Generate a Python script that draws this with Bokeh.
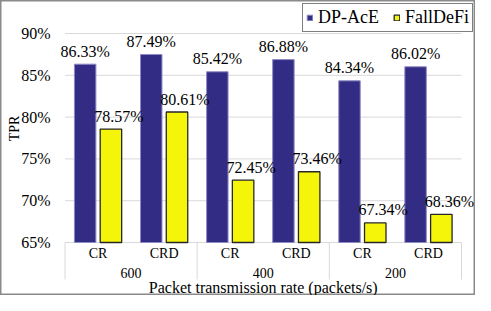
from bokeh.plotting import figure
from bokeh.models import Range1d, ColumnDataSource, Legend, LegendItem
from bokeh.transform import dodge
from bokeh.core.properties import value
from bokeh.embed import file_html
from bokeh.resources import INLINE

# ---- data ----
groups = ["600", "400", "200"]
subcats = ["CR", "CRD"]
dp_ace = [86.33, 87.49, 85.42, 86.88, 84.34, 86.02]
falldefi = [78.57, 80.61, 72.45, 73.46, 67.34, 68.36]
y_ticks = [65, 70, 75, 80, 85, 90]
series_names = ["DP-AcE", "FallDeFi"]
x_title = "Packet transmission rate (packets/s)"
y_title = "TPR"

FONT = "'Liberation Serif', 'Times New Roman', Times, serif"
DP_COLOR = "#332c85"
FD_COLOR = "#f5f50a"
GRID = "#d9d9d9"

W, H = 475, 295
ymin, ymax = y_ticks[0], y_ticks[-1]
LEFT_PX, RIGHT_PX = 64.5, 461      # canvas x of first / last category edge
TOP_PX, BOT_PX = 33, 242           # canvas y of top / bottom tick

factors = [(g, s) for g in groups for s in subcats]
n = len(factors)
n_sub = len(subcats)
PX_X = (RIGHT_PX - LEFT_PX) / n
PX_Y = (BOT_PX - TOP_PX) / (ymax - ymin)


def x_at(px):
    return (px - LEFT_PX) / PX_X


def y_at(py):
    return ymax - (py - TOP_PX) / PX_Y


xc = [i + 0.5 for i in range(n)]

p = figure(width=W, height=H,
           x_range=Range1d(x_at(0), x_at(W)),
           y_range=Range1d(y_at(H), y_at(0)),
           x_axis_location=None, y_axis_location=None,
           output_backend="svg", toolbar_location=None,
           min_border=0)
p.grid.visible = False
p.outline_line_color = "#8a8a8a"
p.outline_line_width = 2
p.background_fill_color = "white"
p.border_fill_color = "white"

# value axis: grid lines, tick labels, title
p.segment(x0=[0] * len(y_ticks), x1=[n] * len(y_ticks), y0=y_ticks, y1=y_ticks,
          line_color=GRID, line_width=1)
p.text(x=[x_at(50)] * len(y_ticks), y=y_ticks, text=[f"{t}%" for t in y_ticks],
       text_align="right", text_baseline="middle",
       text_font=value(FONT), text_font_size="16px", text_color="black")
p.text(x=[x_at(14)], y=[y_at(128)], text=[y_title], angle=1.5708,
       text_align="center", text_baseline="middle",
       text_font=value(FONT), text_font_size="14px", text_color="black")

src = ColumnDataSource(dict(
    x=xc, dp=dp_ace, fd=falldefi,
    dp_lbl=[f"{v:.2f}%" for v in dp_ace],
    fd_lbl=[f"{v:.2f}%" for v in falldefi],
))

off = 0.195
bw = 0.325
r1 = p.vbar(x=dodge("x", -off), top="dp", bottom=ymin, width=bw, source=src,
            fill_color=DP_COLOR, line_color="#8f8bc4", line_width=1)
r2 = p.vbar(x=dodge("x", off), top="fd", bottom=ymin, width=bw, source=src,
            fill_color=FD_COLOR, line_color="#262626", line_width=1.3)

p.text(x=dodge("x", -off), y="dp", text="dp_lbl", source=src,
       y_offset=-13, text_align="center", text_baseline="middle",
       text_font=value(FONT), text_font_size="16px", text_color="black")
p.text(x=dodge("x", off), y="fd", text="fd_lbl", source=src,
       x_offset=8, y_offset=-13, text_align="center", text_baseline="middle",
       text_font=value(FONT), text_font_size="16px", text_color="black")

# category axis
bounds = [i * n_sub for i in range(len(groups) + 1)]
p.segment(x0=bounds, x1=bounds, y0=[ymin] * len(bounds), y1=[y_at(279)] * len(bounds),
          line_color=GRID, line_width=1)
p.text(x=xc, y=[y_at(253)] * n, text=[s for _, s in factors],
       text_align="center", text_baseline="middle",
       text_font=value(FONT), text_font_size="14px", text_color="black")
p.text(x=[g * n_sub + n_sub / 2 for g in range(len(groups))], y=[y_at(272)] * len(groups),
       text=groups, text_align="center", text_baseline="middle",
       text_font=value(FONT), text_font_size="14px", text_color="black")
p.text(x=[n / 2], y=[y_at(287)], text=[x_title],
       text_align="center", text_baseline="alphabetic",
       text_font=value(FONT), text_font_size="16px", text_color="black")

legend = Legend(items=[LegendItem(label=series_names[0], renderers=[r1]),
                       LegendItem(label=series_names[1], renderers=[r2])],
                orientation="horizontal", location=(302, H - 32), margin=0,
                padding=3, spacing=14, label_standoff=5,
                glyph_width=7, glyph_height=7, label_height=12,
                label_text_font=FONT, label_text_font_size="18px",
                label_text_color="black", border_line_color="black",
                border_line_width=1, background_fill_color="white",
                background_fill_alpha=1)
p.add_layout(legend)

open("out.html", "w").write(file_html(p, INLINE))
